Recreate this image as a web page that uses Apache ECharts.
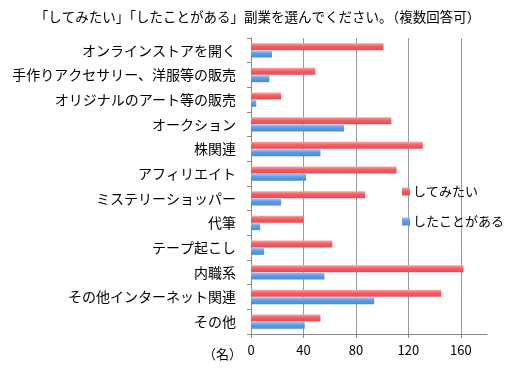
<!DOCTYPE html>
<html>
<head>
<meta charset="utf-8">
<script src="https://cdn.jsdelivr.net/npm/echarts@6/dist/echarts.min.js"></script>
<style>html,body{margin:0;padding:0;background:#fff;}#c{width:515px;height:369px;}</style>
</head>
<body>
<div id="c"></div>
<script>
const title = '「してみたい」「したことがある」副業を選んでください。（複数回答可）';
const categories = ['オンラインストアを開く','手作りアクセサリー、洋服等の販売','オリジナルのアート等の販売','オークション','株関連','アフィリエイト','ミステリーショッパー','代筆','テープ起こし','内職系','その他インターネット関連','その他'];
const seriesNames = ['してみたい','したことがある'];
const wantValues = [101, 49, 23, 107, 131, 111, 87, 40, 62, 162, 145, 53];
const doneValues = [16, 14, 4, 71, 53, 42, 23, 7, 10, 56, 94, 41];
const unitLabel = '（名）';

const font = '"Noto Sans CJK JP", sans-serif';
function grad(c0, c1, c2) {
  return new echarts.graphic.LinearGradient(0, 0, 0, 1, [
    {offset: 0, color: c0}, {offset: 0.45, color: c1}, {offset: 1, color: c2}
  ]);
}
const chart = echarts.init(document.getElementById('c'), null, {renderer: 'canvas'});
chart.setOption({
  animation: false,
  textStyle: {fontFamily: font},
  title: {
    text: title, left: 'center', top: 5,
    textStyle: {fontFamily: font, fontSize: 13.5, fontWeight: 'normal', color: '#000'}
  },
  legend: {
    orient: 'vertical', left: 397, top: 180, itemWidth: 8, itemHeight: 8, itemGap: 17,
    icon: 'rect',
    textStyle: {fontFamily: font, fontSize: 13, color: '#000', padding: [0, 0, 0, -2]},
    data: seriesNames
  },
  graphic: [{
    type: 'text', left: 203, top: 348,
    style: {text: unitLabel, font: '13px ' + font, fill: '#000'}
  }],
  grid: {left: 251, top: 38, right: 28, bottom: 35},
  xAxis: {
    type: 'value', min: 0, max: 180, interval: 40,
    axisLine: {show: true, lineStyle: {color: '#888'}},
    axisTick: {show: true, length: 4, lineStyle: {color: '#888'}},
    axisLabel: {fontFamily: font, fontSize: 13, color: '#000', margin: 10, showMaxLabel: false},
    splitLine: {show: true, showMaxLine: false, lineStyle: {color: '#999', width: 1}}
  },
  yAxis: {
    type: 'category', data: categories, inverse: true,
    axisLine: {show: true, lineStyle: {color: '#888'}},
    axisTick: {show: true, length: 4, lineStyle: {color: '#888'}},
    axisLabel: {fontFamily: font, fontSize: 14, color: '#000', margin: 15}
  },
  series: [
    {name: seriesNames[0], type: 'bar', data: wantValues, barWidth: 7, barGap: '5%',
     itemStyle: {color: grad('#fca3a6', '#f25d63', '#e94c52')}},
    {name: seriesNames[1], type: 'bar', data: doneValues, barWidth: 7, barGap: '5%',
     itemStyle: {color: grad('#9cc8f6', '#5b9de8', '#4a89da')}}
  ]
});
</script>
</body>
</html>
